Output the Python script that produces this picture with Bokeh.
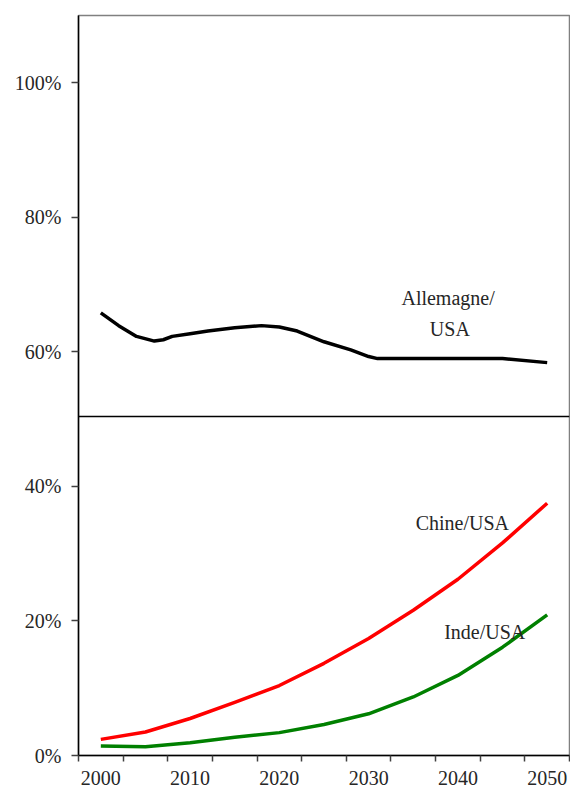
from bokeh.plotting import figure
from bokeh.models import FixedTicker, Range1d, Span
from bokeh.core.properties import value
from bokeh.embed import file_html
from bokeh.resources import INLINE

# ---- data ----
de_years = [2000, 2002, 2004, 2006, 2007, 2008, 2010, 2012, 2015, 2018, 2020,
            2022, 2025, 2028, 2030, 2031, 2045, 2050]
de_usa = [65.8, 63.9, 62.3, 61.6, 61.8, 62.3, 62.7, 63.1, 63.6, 63.9, 63.7,
          63.1, 61.5, 60.3, 59.3, 59.0, 59.0, 58.4]

years = [2000, 2005, 2010, 2015, 2020, 2025, 2030, 2035, 2040, 2045, 2050]
chine_usa = [2.4, 3.5, 5.5, 7.9, 10.4, 13.7, 17.4, 21.6, 26.2, 31.6, 37.5]
inde_usa = [1.4, 1.3, 1.9, 2.7, 3.4, 4.6, 6.2, 8.7, 11.9, 16.1, 20.9]

x_tick_years = [2000, 2010, 2020, 2030, 2040, 2050]
x_tick_labels = ["2000", "2010", "2020", "2030", "2040", "2050"]
y_ticks = [0, 20, 40, 60, 80, 100]
y_tick_labels = ["0%", "20%", "40%", "60%", "80%", "100%"]

FONT = "Liberation Serif"
TXT = "#262626"

half = (years[1] - years[0]) / 2
bounds = [y - half for y in years] + [years[-1] + half]

p = figure(width=570, height=787, output_backend="svg", toolbar_location=None,
           x_range=Range1d(bounds[0], bounds[-1]), y_range=Range1d(0, 110),
           min_border_left=78, min_border_top=15, min_border_right=1,
           min_border_bottom=32)
p.xgrid.visible = False
p.ygrid.visible = False
p.outline_line_color = "#808080"
p.outline_line_width = 1.5
p.background_fill_color = "white"
p.border_fill_color = "white"

# x axis
xa = p.xaxis[0]
xa.ticker = FixedTicker(ticks=x_tick_years, minor_ticks=bounds)
xa.major_label_overrides = {y: l for y, l in zip(x_tick_years, x_tick_labels)}
xa.major_tick_out = 0
xa.major_tick_in = 0
xa.minor_tick_out = 6
xa.minor_tick_in = 0
xa.minor_tick_line_color = "#404040"
xa.minor_tick_line_width = 1.5
xa.axis_line_color = "black"
xa.axis_line_width = 1.5
xa.major_label_standoff = 9
xa.major_label_text_font = FONT
xa.major_label_text_font_size = "20px"
xa.major_label_text_color = TXT

# y axis
ya = p.yaxis[0]
ya.ticker = FixedTicker(ticks=y_ticks, minor_ticks=[])
ya.major_label_overrides = {t: l for t, l in zip(y_ticks, y_tick_labels)}
ya.major_tick_out = 7
ya.major_tick_in = 0
ya.major_tick_line_color = "#404040"
ya.major_tick_line_width = 1.5
ya.minor_tick_out = 0
ya.minor_tick_in = 0
ya.axis_line_color = "black"
ya.axis_line_width = 1.5
ya.major_label_standoff = 10
ya.major_label_text_font = FONT
ya.major_label_text_font_size = "20px"
ya.major_label_text_color = TXT

# separator line
p.add_layout(Span(location=50.4, dimension="width", line_color="black",
                  line_width=1.5))

# series
p.line(de_years, de_usa, line_color="black", line_width=3.5, line_join="round")
p.line(years, chine_usa, line_color="#FF0000", line_width=3.5, line_join="round")
p.line(years, inde_usa, line_color="#008000", line_width=3.5, line_join="round")

# labels
def lab(x, y, t):
    p.text(x=[x], y=[y], text=[t], text_font=value(FONT),
           text_font_size="20px", text_align="center",
           text_baseline="middle", text_color=TXT)

lab(2038.9, 68.0, "Allemagne/")
lab(2039.1, 63.4, "USA")
lab(2040.5, 34.6, "Chine/USA")
lab(2043.0, 18.3, "Inde/USA")

open("out.html", "w").write(file_html(p, INLINE))
